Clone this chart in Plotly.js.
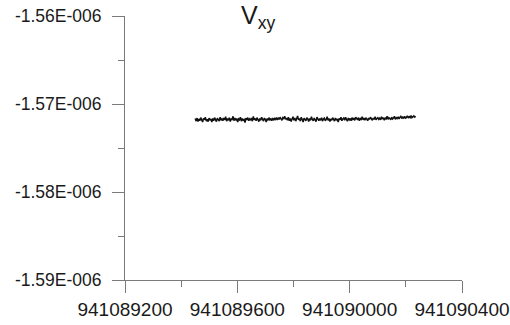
<!DOCTYPE html>
<html>
<head>
<meta charset="utf-8">
<script src="https://cdn.plot.ly/plotly-3.0.1.min.js"></script>
<style>html,body{margin:0;padding:0;background:#fff;}#chart{width:510px;height:325px;}</style>
</head>
<body>
<div id="chart"></div>
<script>
// Sampling time axis (acquisition clock)
const tStart = 941089450;
const tEnd = 941090235;
// Vxy readings, in units of 1E-006
const vxy = [
-1.57165,-1.57195,-1.57160,-1.57200,-1.57170,-1.57190,-1.57155,-1.57185,-1.57205,-1.57165,
-1.57180,-1.57150,-1.57195,-1.57175,-1.57200,-1.57160,-1.57185,-1.57170,-1.57205,-1.57165,
-1.57190,-1.57155,-1.57180,-1.57200,-1.57160,-1.57175,-1.57195,-1.57150,-1.57185,-1.57170,
-1.57190,-1.57160,-1.57180,-1.57145,-1.57195,-1.57165,-1.57185,-1.57155,-1.57200,-1.57170,
-1.57175,-1.57140,-1.57190,-1.57160,-1.57185,-1.57165,-1.57205,-1.57170,-1.57180,-1.57150,
-1.57195,-1.57165,-1.57185,-1.57175,-1.57210,-1.57160,-1.57180,-1.57155,-1.57190,-1.57170,
-1.57185,-1.57160,-1.57195,-1.57140,-1.57180,-1.57165,-1.57190,-1.57155,-1.57175,-1.57200,
-1.57165,-1.57185,-1.57150,-1.57180,-1.57195,-1.57160,-1.57175,-1.57205,-1.57165,-1.57185,
-1.57155,-1.57180,-1.57170,-1.57190,-1.57160,-1.57185,-1.57165,-1.57175,-1.57155,-1.57180,
-1.57160,-1.57175,-1.57150,-1.57170,-1.57185,-1.57155,-1.57165,-1.57140,-1.57175,-1.57160,
-1.57185,-1.57150,-1.57190,-1.57165,-1.57200,-1.57170,-1.57145,-1.57185,-1.57160,-1.57195,
-1.57170,-1.57135,-1.57180,-1.57165,-1.57195,-1.57150,-1.57175,-1.57205,-1.57160,-1.57180,
-1.57190,-1.57155,-1.57170,-1.57200,-1.57165,-1.57185,-1.57145,-1.57175,-1.57190,-1.57160,
-1.57180,-1.57200,-1.57150,-1.57170,-1.57190,-1.57165,-1.57185,-1.57155,-1.57195,-1.57170,
-1.57160,-1.57190,-1.57175,-1.57145,-1.57185,-1.57165,-1.57200,-1.57170,-1.57185,-1.57155,
-1.57175,-1.57195,-1.57160,-1.57185,-1.57170,-1.57205,-1.57165,-1.57180,-1.57150,-1.57190,
-1.57170,-1.57160,-1.57185,-1.57150,-1.57175,-1.57195,-1.57160,-1.57180,-1.57165,-1.57190,
-1.57155,-1.57175,-1.57165,-1.57185,-1.57150,-1.57170,-1.57180,-1.57155,-1.57190,-1.57165,
-1.57175,-1.57145,-1.57180,-1.57160,-1.57185,-1.57155,-1.57170,-1.57190,-1.57160,-1.57175,
-1.57150,-1.57170,-1.57185,-1.57160,-1.57175,-1.57145,-1.57180,-1.57165,-1.57155,-1.57175,
-1.57160,-1.57180,-1.57145,-1.57170,-1.57155,-1.57185,-1.57160,-1.57170,-1.57140,-1.57175,
-1.57155,-1.57165,-1.57180,-1.57150,-1.57170,-1.57160,-1.57140,-1.57175,-1.57155,-1.57165,
-1.57145,-1.57170,-1.57155,-1.57135,-1.57165,-1.57150,-1.57160,-1.57140,-1.57165,-1.57150,
-1.57135,-1.57160,-1.57145,-1.57155,-1.57130,-1.57155,-1.57145,-1.57135,-1.57150,-1.57140
];
const yTickVals = [-1.59, -1.58, -1.57, -1.56];
const yTickText = ["-1.59E-006", "-1.58E-006", "-1.57E-006", "-1.56E-006"];
const xTickVals = [941089200, 941089600, 941090000, 941090400];
const xTickText = ["941089200", "941089600", "941090000", "941090400"];
const titleText = "V<sub>xy</sub>";

const step = (tEnd - tStart) / (vxy.length - 1);
const tx = vxy.map((_, i) => tStart + i * step);

const axisColor = "#7a7a7a";
const fontFam = "Liberation Sans, Arial, sans-serif";

Plotly.newPlot("chart", [{
  x: tx, y: vxy, type: "scatter", mode: "lines",
  line: {color: "#111", width: 1.5},
  hoverinfo: "skip"
}], {
  width: 510, height: 325,
  margin: {l: 125, r: 48, t: 16, b: 45},
  paper_bgcolor: "#fff", plot_bgcolor: "#fff",
  showlegend: false,
  font: {family: fontFam, size: 17, color: "#1a1a1a"},
  xaxis: {
    range: [941089200, 941090400], tickmode: "array",
    tickvals: xTickVals, ticktext: xTickText,
    showgrid: false, zeroline: false, showline: true,
    linecolor: axisColor, linewidth: 1,
    ticks: "outside", ticklen: 12, tickcolor: axisColor, tickwidth: 1,
    minor: {dtick: 200, tick0: 941089200, ticks: "outside", ticklen: 6, tickcolor: axisColor, showgrid: false},
    tickfont: {family: fontFam, size: 19, color: "#1a1a1a"},
    ticklabelstandoff: 0
  },
  yaxis: {
    range: [-1.59, -1.56], tickmode: "array",
    tickvals: yTickVals, ticktext: yTickText,
    showgrid: false, zeroline: false, showline: true,
    linecolor: axisColor, linewidth: 1,
    ticks: "outside", ticklen: 12, tickcolor: axisColor, tickwidth: 1,
    minor: {dtick: 0.005, tick0: -1.59, ticks: "outside", ticklen: 6, tickcolor: axisColor, showgrid: false},
    tickfont: {family: fontFam, size: 17.5, color: "#1a1a1a"},
    ticklabelstandoff: 7
  },
  annotations: [{
    text: titleText, xref: "paper", yref: "paper",
    x: 0.395, y: 1.065, xanchor: "center", yanchor: "top",
    showarrow: false, font: {family: fontFam, size: 25, color: "#1a1a1a"}
  }]
}, {staticPlot: true, displayModeBar: false});
</script>
</body>
</html>
